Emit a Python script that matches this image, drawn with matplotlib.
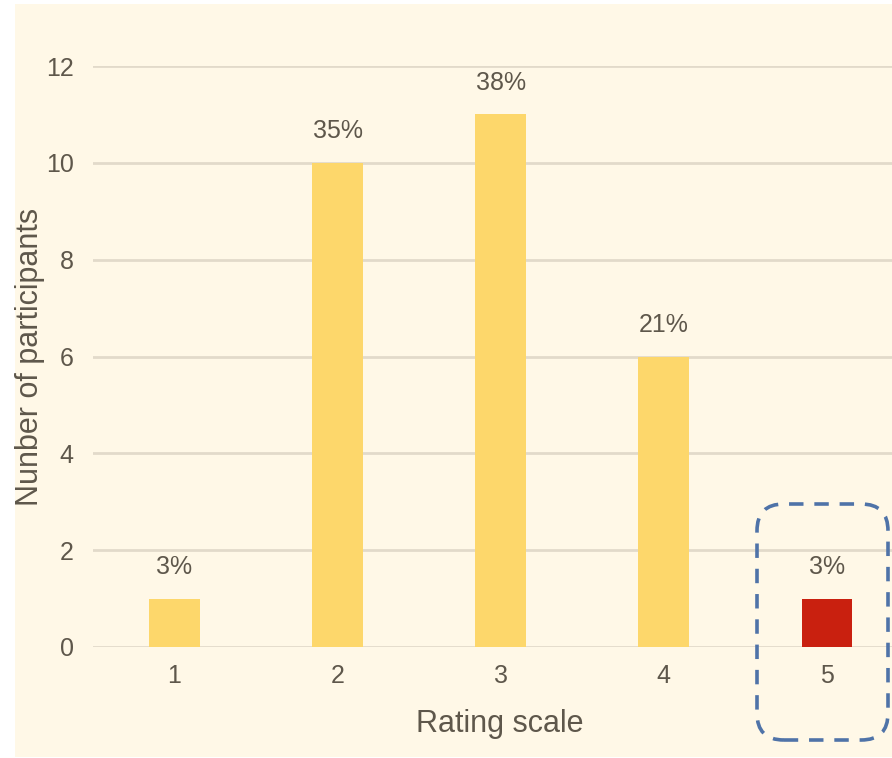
import matplotlib
matplotlib.use("Agg")
import matplotlib.pyplot as plt
from matplotlib.patches import FancyBboxPatch
from matplotlib import font_manager

categories = ["1", "2", "3", "4", "5"]
counts = [1, 10, 11, 6, 1]
pct_labels = ["3%", "35%", "38%", "21%", "3%"]
bar_colors = ["#FDD76B", "#FDD76B", "#FDD76B", "#FDD76B", "#C9200F"]
yticks = [0, 2, 4, 6, 8, 10, 12]

names = {f.name for f in font_manager.fontManager.ttflist}
fam = "Liberation Sans Narrow" if "Liberation Sans Narrow" in names else "Liberation Sans"
plt.rcParams["font.family"] = [fam, "DejaVu Sans"]

W, H = 892, 758
fig = plt.figure(figsize=(W / 100, H / 100), dpi=100)
fig.patch.set_facecolor("white")
# cream background panel
bg = fig.add_axes([15 / W, 1 - 757 / H, 1 - 15 / W, (757 - 4) / H])
bg.set_facecolor("#FFF8E7")
bg.set_xticks([]); bg.set_yticks([])
for s in bg.spines.values():
    s.set_visible(False)
bg.set_zorder(0)

ax_left, ax_right = 93, 892
ax_top, ax_bot = 66, 647
ax = fig.add_axes([ax_left / W, 1 - ax_bot / H, (ax_right - ax_left) / W, (ax_bot - ax_top) / H])
ax.set_zorder(1)
ax.patch.set_alpha(0)
x = list(range(1, len(categories) + 1))
ax.bar(x, counts, width=0.31, color=bar_colors, zorder=3)
ax.set_xlim(0.5, 5.4)
ax.set_ylim(0, 12)
ax.set_yticks(yticks)
ax.set_xticks(x)
ax.set_xticklabels(categories)
txt = "#5E574B"
ax.tick_params(axis="both", length=0, labelsize=18, colors=txt)
ax.tick_params(axis="y", pad=14)
ax.tick_params(axis="x", pad=12)
ax.yaxis.grid(True, color="#E2DACA", linewidth=2, zorder=0)
for s in ax.spines.values():
    s.set_visible(False)
for xi, c, lab in zip(x, counts, pct_labels):
    ax.annotate(lab, (xi, c), xytext=(0, 14), textcoords="offset points",
                ha="center", va="bottom", fontsize=18, color=txt)

fig.text(500 / W, 1 - 724 / H, "Rating scale", ha="center", va="center", fontsize=22, color=txt)
fig.text(30 / W, 1 - 357 / H, "Nunber of participants", ha="center", va="center",
         rotation=90, fontsize=22, color=txt)

# dashed rounded highlight box
bx0, by0, bx1, by1 = 757, 504, 888, 740
pad = 0
box = FancyBboxPatch((bx0 / W, 1 - by1 / H), (bx1 - bx0) / W, (by1 - by0) / H,
                     boxstyle="round,pad=0,rounding_size=0.03",
                     transform=fig.transFigure, fill=False, edgecolor="#4F73A8",
                     linewidth=2.6, linestyle=(0, (4, 3)), zorder=10,
                     mutation_aspect=W / H)
fig.add_artist(box)

fig.savefig("out.png", dpi=100)
